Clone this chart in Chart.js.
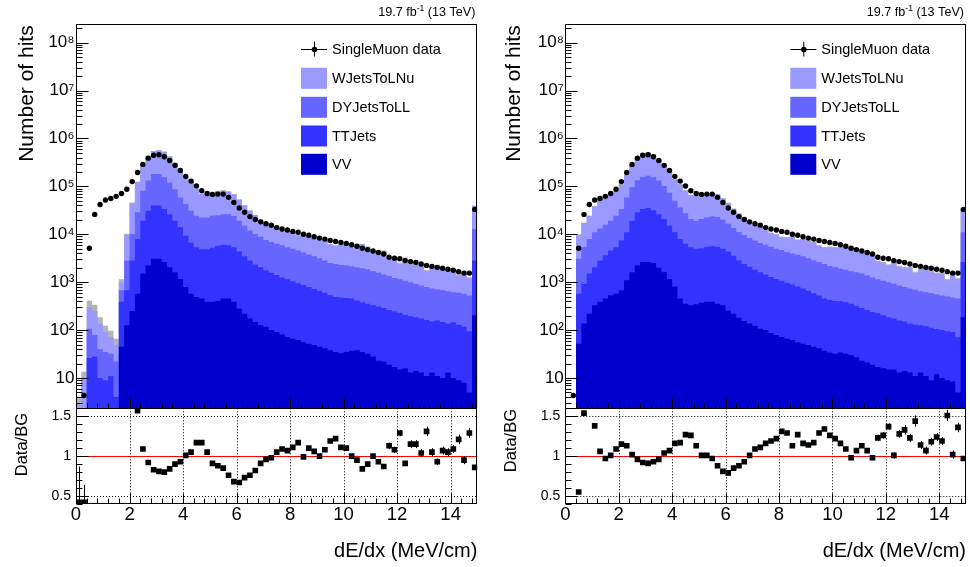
<!DOCTYPE html>
<html>
<head>
<meta charset="utf-8">
<script src="https://cdn.jsdelivr.net/npm/chart.js@4.4.0/dist/chart.umd.min.js"></script>
<style>
  html, body { margin: 0; padding: 0; background: #fff; }
  #wrap { position: relative; width: 970px; height: 567px; }
  .pane { position: absolute; top: 0; width: 485px; height: 567px; }
</style>
</head>
<body>
<div id="wrap">
  <div class="pane" style="left:0"><canvas id="cL" width="485" height="567"></canvas></div>
  <div class="pane" style="left:485px"><canvas id="cR" width="485" height="567"></canvas></div>
</div>
<script>
// binning: 75 bins of 0.2 MeV/cm from 0 to 15
const nBins = 75;
const binWidth = 0.2;
const xTickLabels = [0, 2, 4, 6, 8, 10, 12, 14];
const logTickLabels = [10, 1e2, 1e3, 1e4, 1e5, 1e6, 1e7, 1e8];
const ratioTickLabels = [0.5, 1, 1.5];
const legendNames = ['SingleMuon data', 'WJetsToLNu', 'DYJetsToLL', 'TTJets', 'VV'];

// data (same in both panels)
const dataHits = [1, 4.3, 5100, 26000, 42000, 52000, 56000, 62000, 71000, 87000,
  126000, 195000, 288000, 389000, 447000, 457000, 417000, 347000, 275000, 214000,
  162000, 129000, 102000, 81000, 71000, 68000, 69000, 69000, 59000, 46000,
  35500, 28800, 23400, 20400, 18200, 16600, 15500, 13800, 12900, 12300,
  11500, 11000, 10000, 9550, 8910, 8320, 7940, 7410, 7080, 6760,
  6460, 6030, 5620, 5130, 4790, 4470, 4170, 3890, 3310, 3160,
  3090, 2820, 2690, 2570, 2400, 2240, 2140, 2040, 1950, 1860,
  1780, 1660, 1550, 1550, 33100];

// left panel, stacked heights (top of each layer of the THStack)
const stackWJetsL = [2.8, 10, 302, 251, 138, 91, 72, 49, 1000, 9770,
  44700, 123000, 263000, 427000, 537000, 562000, 525000, 417000, 309000, 229000,
  162000, 123000, 87100, 69200, 67600, 74100, 79400, 81300, 77600, 67600,
  52500, 39800, 30900, 25100, 20000, 17400, 15800, 13200, 11700, 11500,
  10500, 9330, 10000, 8710, 8320, 8320, 7410, 6170, 5750, 6030,
  5890, 6030, 5890, 6170, 5370, 4470, 4470, 4470, 2950, 2950,
  2400, 3090, 2340, 2240, 2290, 1700, 2040, 2190, 1820, 1780,
  1620, 1380, 1620, 1200, 38900];
const stackDYL = [0, 0, 107, 79, 40, 35, 32, 22, 676, 2820,
  10200, 28800, 81300, 132000, 182000, 182000, 155000, 120000, 87100, 58900,
  42700, 30900, 24500, 22400, 22400, 24500, 25100, 26300, 26300, 24000,
  19100, 15100, 12000, 10200, 8910, 7590, 6920, 6310, 5890, 5370,
  5010, 4570, 4170, 3800, 3470, 3160, 2820, 2510, 2400, 2290,
  2240, 2140, 2040, 1950, 1860, 1700, 1580, 1450, 1350, 1230,
  1150, 1070, 1000, 912, 851, 794, 741, 708, 676, 646,
  617, 603, 575, 525, 12900];
const stackTTL = [0, 0, 26, 28, 10, 9, 11, 4, 389, 676,
  2820, 7940, 19100, 30900, 39800, 39800, 33900, 26300, 19100, 14100,
  9330, 6760, 5370, 4900, 4900, 5250, 5750, 6030, 5890, 5370,
  4370, 3470, 2820, 2340, 2040, 1780, 1580, 1410, 1260, 1150,
  1050, 955, 871, 794, 724, 661, 603, 537, 490, 479,
  468, 457, 417, 380, 355, 331, 309, 288, 263, 245,
  229, 209, 195, 186, 174, 162, 151, 158, 148, 138,
  145, 129, 117, 95, 2820];
const stackVVL = [0, 0, 0, 0, 0, 0, 0, 0, 45, 126,
  251, 575, 1510, 2240, 3090, 3090, 2630, 2040, 1620, 1170,
  794, 575, 490, 457, 389, 389, 407, 457, 457, 389,
  282, 219, 174, 148, 126, 117, 100, 91, 81, 72,
  66, 62, 56, 52, 49, 45, 42, 38, 35, 33,
  35, 37, 38, 35, 32, 28, 23, 22, 19, 17,
  15, 16, 13, 14, 13, 11, 13, 11, 10, 13,
  10, 9, 8, 5, 204];
// relative MC uncertainty (grey band)
const mcErrL = [0.35, 0.35, 0.35, 0.35, 0.35, 0.35, 0.35, 0.35, 0.15, 0.05,
  0.03, 0.02, 0.02, 0.02, 0.02, 0.02, 0.02, 0.02, 0.02, 0.02,
  0.02, 0.02, 0.02, 0.02, 0.02, 0.02, 0.02, 0.02, 0.02, 0.02,
  0.02, 0.02, 0.02, 0.02, 0.02, 0.02, 0.02, 0.02, 0.02, 0.02,
  0.03, 0.03, 0.03, 0.03, 0.03, 0.03, 0.03, 0.03, 0.03, 0.03,
  0.03, 0.03, 0.03, 0.03, 0.03, 0.03, 0.03, 0.03, 0.06, 0.06,
  0.06, 0.06, 0.06, 0.06, 0.06, 0.06, 0.06, 0.06, 0.06, 0.06,
  0.06, 0.06, 0.06, 0.06, 0.02];
const ratioL = [0.42, 0.42, null, null, null, null, null, null, null, null,
  null, 1.57, 1.09, 0.92, 0.83, 0.81, 0.80, 0.84, 0.90, 0.93,
  1.01, 1.05, 1.17, 1.17, 1.05, 0.91, 0.88, 0.85, 0.76, 0.68,
  0.67, 0.73, 0.76, 0.82, 0.91, 0.96, 0.98, 1.05, 1.09, 1.07,
  1.11, 1.17, 0.99, 1.10, 1.06, 1.00, 1.08, 1.19, 1.22, 1.11,
  1.10, 1.00, 0.95, 0.84, 0.90, 1.00, 0.93, 0.87, 1.13, 1.08,
  1.29, 0.91, 1.15, 1.15, 1.04, 1.31, 1.05, 0.93, 1.07, 1.05,
  1.09, 1.21, 0.95, 1.29, 0.86];
const ratioErrL = [0.45, 0.22, 0, 0, 0, 0, 0, 0, 0, 0,
  0, 0.01, 0.01, 0.01, 0.01, 0.01, 0.01, 0.01, 0.01, 0.01,
  0.01, 0.01, 0.01, 0.01, 0.01, 0.01, 0.01, 0.01, 0.01, 0.01,
  0.01, 0.01, 0.01, 0.01, 0.01, 0.01, 0.01, 0.01, 0.01, 0.01,
  0.01, 0.01, 0.01, 0.01, 0.01, 0.02, 0.02, 0.02, 0.02, 0.02,
  0.02, 0.02, 0.02, 0.02, 0.02, 0.02, 0.02, 0.02, 0.04, 0.04,
  0.04, 0.03, 0.05, 0.05, 0.05, 0.06, 0.05, 0.04, 0.05, 0.05,
  0.05, 0.06, 0.05, 0.06, 0.02];

// right panel
const stackWJetsR = [0, 0, 9550, 17000, 24000, 38000, 53700, 63100, 70800, 79400,
  110000, 174000, 282000, 407000, 490000, 501000, 457000, 363000, 263000, 200000,
  141000, 110000, 81300, 64600, 63100, 67600, 69200, 70800, 67600, 56200,
  44700, 33900, 26900, 21900, 18200, 15100, 14100, 12000, 10700, 10000,
  8710, 8510, 8910, 7590, 7760, 7240, 6760, 5750, 5250, 5370,
  5250, 5250, 5130, 5250, 4470, 3980, 3890, 3980, 2690, 2510,
  2240, 2820, 2090, 1950, 1950, 1550, 1860, 1910, 1660, 1510,
  1480, 1100, 1510, 1150, 33900];
const stackDYR = [0, 0, 3090, 5370, 7940, 11000, 13200, 15800, 19100, 24500,
  33900, 58900, 95500, 135000, 158000, 166000, 155000, 132000, 102000, 74100,
  50100, 36300, 27500, 20900, 19100, 20900, 22400, 23400, 22900, 20000,
  16600, 13500, 11200, 9550, 8320, 7410, 6610, 6030, 5500, 5010,
  4680, 4270, 3980, 3720, 3470, 3160, 2880, 2630, 2400, 2190,
  2040, 1910, 1820, 1700, 1620, 1510, 1380, 1260, 1150, 1070,
  1000, 933, 851, 794, 741, 692, 646, 617, 589, 562,
  525, 501, 479, 457, 11000];
const stackTTR = [0, 0, 575, 933, 1510, 2040, 2820, 3630, 4570, 5370,
  7410, 11000, 19100, 28800, 33900, 35500, 31600, 26300, 20900, 15100,
  11000, 7940, 6310, 5370, 5010, 5130, 5500, 5620, 5500, 5010,
  4370, 3550, 2880, 2400, 2090, 1820, 1620, 1450, 1290, 1170,
  1070, 977, 891, 813, 741, 661, 589, 525, 457, 427,
  407, 398, 380, 355, 324, 288, 263, 240, 224, 204,
  186, 174, 158, 151, 138, 129, 126, 120, 112, 105,
  100, 95, 91, 71, 2630];
const stackVVR = [0, 0, 52, 138, 219, 331, 389, 457, 537, 575,
  676, 1100, 1620, 2240, 2630, 2630, 2510, 2000, 1620, 1170,
  813, 457, 355, 331, 347, 372, 389, 389, 355, 331,
  257, 219, 182, 155, 138, 123, 107, 100, 87, 79,
  72, 66, 62, 56, 52, 49, 45, 42, 37, 34,
  32, 34, 32, 30, 27, 23, 21, 19, 17, 16,
  15, 15, 13, 14, 13, 11, 13, 11, 9, 12,
  10, 9, 8.5, 5, 186];
const mcErrR = [0, 0, 0.05, 0.04, 0.03, 0.03, 0.02, 0.02, 0.02, 0.02,
  0.02, 0.02, 0.02, 0.02, 0.02, 0.02, 0.02, 0.02, 0.02, 0.02,
  0.02, 0.02, 0.02, 0.02, 0.02, 0.02, 0.02, 0.02, 0.02, 0.02,
  0.02, 0.02, 0.02, 0.02, 0.02, 0.02, 0.02, 0.02, 0.02, 0.02,
  0.03, 0.03, 0.03, 0.03, 0.03, 0.03, 0.03, 0.03, 0.03, 0.03,
  0.03, 0.03, 0.03, 0.03, 0.03, 0.03, 0.03, 0.03, 0.06, 0.06,
  0.06, 0.06, 0.06, 0.06, 0.06, 0.06, 0.06, 0.06, 0.06, 0.06,
  0.06, 0.06, 0.06, 0.06, 0.02];
const ratioR = [null, null, 0.55, 1.54, null, 1.38, 1.06, 0.97, 1.01, 1.09,
  1.15, 1.13, 1.02, 0.96, 0.92, 0.91, 0.93, 0.96, 1.04, 1.07,
  1.16, 1.17, 1.27, 1.26, 1.13, 1.01, 1.01, 0.97, 0.88, 0.81,
  0.79, 0.85, 0.88, 0.93, 1.01, 1.09, 1.11, 1.16, 1.19, 1.22,
  1.31, 1.29, 1.13, 1.27, 1.16, 1.14, 1.17, 1.29, 1.34, 1.26,
  1.22, 1.16, 1.09, 0.98, 1.07, 1.13, 1.07, 0.98, 1.23, 1.26,
  1.37, 1.01, 1.28, 1.33, 1.23, 1.44, 1.14, 1.07, 1.18, 1.24,
  1.19, 1.51, 1.02, 1.36, 0.97];
const ratioErrR = [0, 0, 0.01, 0.01, 0.01, 0.01, 0.01, 0.01, 0.01, 0.01,
  0.01, 0.01, 0.01, 0.01, 0.01, 0.01, 0.01, 0.01, 0.01, 0.01,
  0.01, 0.01, 0.01, 0.01, 0.01, 0.01, 0.01, 0.01, 0.01, 0.01,
  0.01, 0.01, 0.01, 0.01, 0.01, 0.01, 0.01, 0.01, 0.01, 0.01,
  0.01, 0.01, 0.01, 0.01, 0.01, 0.02, 0.02, 0.02, 0.02, 0.02,
  0.02, 0.02, 0.02, 0.02, 0.02, 0.02, 0.02, 0.02, 0.04, 0.04,
  0.04, 0.04, 0.05, 0.06, 0.05, 0.07, 0.05, 0.05, 0.05, 0.05,
  0.05, 0.07, 0.05, 0.06, 0.02];

// styles
const FONT = '"Liberation Sans", Arial, Helvetica, sans-serif';
const stackColors = ['#9999ff', '#6666ff', '#3333ff', '#0000cc'];
const bandColor = '#b4b4b4';
const yMin = 2.33, yMax = 2.42e8;
const rMin = 0.4, rMax = 1.6;

const supMap = {'0': '\u2070', '1': '\u00b9', '2': '\u00b2', '3': '\u00b3', '4': '\u2074',
  '5': '\u2075', '6': '\u2076', '7': '\u2077', '8': '\u2078', '9': '\u2079'};
function decadeLabel(v) {
  const k = Math.round(Math.log10(v));
  if (k === 1) return '10';
  return '10' + String(k).split('').map(c => supMap[c]).join('');
}

// histogram as stepped outline: one point per lower bin edge, plus closing edge
function steps(values) {
  const pts = values.map((v, i) => ({x: i * binWidth, y: Math.max(v, yMin)}));
  pts.push({x: nBins * binWidth, y: Math.max(values[nBins - 1], yMin)});
  return pts;
}
function centres(values, lo) {
  return values.map((v, i) => ({x: (i + 0.5) * binWidth, y: (v === null || v < lo) ? null : v}));
}

function decoPlugin(p) {
  return {
    id: 'rootDeco',
    beforeDatasetsDraw(chart) {
      const {ctx, scales: {x, yr}, chartArea: a} = chart;
      ctx.save();
      ctx.lineWidth = 1;
      ctx.strokeStyle = '#000';
      ctx.setLineDash([1, 2]);
      ctx.beginPath();
      xTickLabels.slice(1).forEach(v => {
        const px = Math.round(x.getPixelForValue(v)) + 0.5;
        ctx.moveTo(px, yr.top); ctx.lineTo(px, yr.bottom);
      });
      [0.5, 1.5].forEach(v => {
        const py = Math.round(yr.getPixelForValue(v)) + 0.5;
        ctx.moveTo(a.left, py); ctx.lineTo(a.right, py);
      });
      ctx.stroke();
      ctx.setLineDash([]);
      ctx.strokeStyle = '#ff0000';
      ctx.beginPath();
      const p1 = Math.round(yr.getPixelForValue(1)) + 0.5;
      ctx.moveTo(a.left, p1); ctx.lineTo(a.right, p1);
      ctx.stroke();
      ctx.restore();
    },
    afterDatasetsDraw(chart) {
      const {ctx, scales: {x, y, yr}, chartArea: a} = chart;
      ctx.save();
      ctx.strokeStyle = '#000';
      ctx.fillStyle = '#000';
      ctx.lineWidth = 1;

      // ratio error bars
      ctx.save();
      ctx.beginPath();
      ctx.rect(a.left, yr.top, a.right - a.left, yr.bottom - yr.top);
      ctx.clip();
      ctx.beginPath();
      p.ratio.forEach((v, i) => {
        const e = p.ratioErr[i];
        if (v === null || !e) return;
        const px = Math.round(x.getPixelForValue((i + 0.5) * binWidth)) + 0.5;
        ctx.moveTo(px, yr.getPixelForValue(Math.min(v + e, rMax)));
        ctx.lineTo(px, yr.getPixelForValue(Math.max(v - e, rMin)));
      });
      ctx.stroke();
      ctx.restore();

      // frames
      const L = Math.round(a.left) + 0.5, R = Math.round(a.right) - 0.5;
      const T = Math.round(y.top) + 0.5, M = Math.round(y.bottom) + 0.5, B = Math.round(yr.bottom) - 0.5;
      ctx.strokeRect(L, T, R - L, M - T);
      ctx.strokeRect(L, M, R - L, B - M);

      // tick marks (inside, ROOT style)
      ctx.beginPath();
      const xMinor = [];
      for (let k = 1; k < 38; k++) { if (k % 5) xMinor.push(k * 0.4); }
      [[M, 10, 5], [B, 10, 5]].forEach(([edge, big, small]) => {
        xTickLabels.forEach(v => { const px = Math.round(x.getPixelForValue(v)) + 0.5; ctx.moveTo(px, edge); ctx.lineTo(px, edge - big); });
        xMinor.forEach(v => { const px = Math.round(x.getPixelForValue(v)) + 0.5; ctx.moveTo(px, edge); ctx.lineTo(px, edge - small); });
      });
      for (let k = 0; k <= 8; k++) {
        for (let m = 1; m <= 9; m++) {
          const v = m * Math.pow(10, k);
          if (v < yMin || v > yMax) continue;
          const py = Math.round(y.getPixelForValue(v)) + 0.5;
          ctx.moveTo(L, py); ctx.lineTo(L + (m === 1 ? 12 : 6), py);
        }
      }
      for (let k = 4; k <= 16; k++) {
        const v = k / 10;
        const py = Math.round(yr.getPixelForValue(v)) + 0.5;
        ctx.moveTo(L, py); ctx.lineTo(L + (k % 5 === 0 ? 12 : 6), py);
      }
      ctx.stroke();

      // legend
      const lx = a.left + 225, tx = a.left + 256;
      const rows = [49, 78.3, 107.3, 136, 164.3];
      ctx.font = '14.5px ' + FONT;
      ctx.textBaseline = 'middle';
      ctx.textAlign = 'left';
      ctx.beginPath();
      ctx.moveTo(lx, rows[0] + 0.5); ctx.lineTo(lx + 26, rows[0] + 0.5);
      ctx.moveTo(lx + 13.5, rows[0] - 7.5); ctx.lineTo(lx + 13.5, rows[0] + 7.5);
      ctx.stroke();
      ctx.beginPath(); ctx.arc(lx + 13.5, rows[0] + 0.5, 2.8, 0, Math.PI * 2); ctx.fill();
      stackColors.forEach((c, i) => {
        ctx.fillStyle = c;
        ctx.fillRect(lx, rows[i + 1] - 10.5, 26, 21);
      });
      ctx.fillStyle = '#000';
      legendNames.forEach((n, i) => ctx.fillText(n, tx, rows[i] + 1));

      // luminosity label
      ctx.textBaseline = 'alphabetic';
      ctx.textAlign = 'left';
      const big = '12.6px ' + FONT, small = '8.6px ' + FONT;
      ctx.font = big;
      const w1 = ctx.measureText('19.7 fb').width, w3 = ctx.measureText(' (13 TeV)').width;
      ctx.font = small;
      const w2 = ctx.measureText('-1').width;
      let sx = a.right - 2 - (w1 + w2 + w3);
      ctx.font = big; ctx.fillText('19.7 fb', sx, 15.8); sx += w1;
      ctx.font = small; ctx.fillText('-1', sx, 10.5); sx += w2;
      ctx.font = big; ctx.fillText(' (13 TeV)', sx, 15.8);

      // axis titles
      ctx.font = '20px ' + FONT;
      ctx.textAlign = 'right';
      ctx.fillText('dE/dx (MeV/cm)', a.right, 557);
      ctx.save();
      ctx.translate(p.titleX, a.top + 1);
      ctx.rotate(-Math.PI / 2);
      ctx.font = '21px ' + FONT;
      ctx.fillText('Number of hits', 0, 0);
      ctx.restore();
      ctx.save();
      ctx.translate(p.ratioTitleX, p.ratioTitleTop);
      ctx.rotate(-Math.PI / 2);
      ctx.font = '16.5px ' + FONT;
      ctx.fillText('Data/BG', 0, 0);
      ctx.restore();
      ctx.restore();
    }
  };
}

function makePanel(p) {
  const layer = (vals, color, order) => ({
    type: 'line', data: steps(vals), yAxisID: 'y', stepped: true, fill: 'start',
    backgroundColor: color, borderColor: color, borderWidth: 0, pointRadius: 0,
    order: order, clip: 0
  });
  const band = p.stacks[0].map((v, i) => v * (1 + p.mcErr[i]));
  const datasets = [
    layer(band, bandColor, 6),
    layer(p.stacks[0], stackColors[0], 5),
    layer(p.stacks[1], stackColors[1], 4),
    layer(p.stacks[2], stackColors[2], 3),
    layer(p.stacks[3], stackColors[3], 2),
    {
      type: 'line', data: centres(dataHits, yMin), yAxisID: 'y', showLine: false,
      pointRadius: 2.7, pointBorderWidth: 0, pointBackgroundColor: '#000', order: 1, clip: 0
    },
    {
      type: 'line', data: centres(p.ratio, rMin), yAxisID: 'yr', showLine: false,
      pointStyle: 'rect', pointRadius: 4, pointBorderWidth: 0, pointBackgroundColor: '#000',
      order: 0, clip: 0
    }
  ];
  const tickFont = size => ({family: FONT, size: size});
  new Chart(document.getElementById(p.canvas), {
    type: 'line',
    data: {datasets: datasets},
    options: {
      responsive: false,
      animation: false,
      devicePixelRatio: 1,
      layout: {padding: {top: 24.3, right: p.padRight, bottom: 0, left: 0}},
      plugins: {legend: {display: false}, tooltip: {enabled: false}},
      scales: {
        x: {
          type: 'linear', min: 0, max: nBins * binWidth, position: 'bottom',
          grid: {display: false, drawTicks: false}, border: {display: false},
          afterBuildTicks: s => { s.ticks = xTickLabels.map(v => ({value: v})); },
          afterFit: s => { s.height = 63; s.paddingLeft = 0; s.paddingRight = 0; },
          ticks: {font: tickFont(18.5), color: '#000', padding: 0, maxRotation: 0, autoSkip: false}
        },
        y: {
          type: 'logarithmic', min: yMin, max: yMax, position: 'left',
          stack: 'pads', stackWeight: 384, weight: 2,
          grid: {display: false, drawTicks: false}, border: {display: false},
          afterBuildTicks: s => { s.ticks = logTickLabels.map(v => ({value: v})); },
          afterFit: s => { s.width = p.left; s.paddingTop = 0; s.paddingBottom = 0; },
          ticks: {font: tickFont(17), color: '#000', padding: 1.5, autoSkip: false,
            callback: v => decadeLabel(v)}
        },
        yr: {
          type: 'linear', min: rMin, max: rMax, position: 'left',
          stack: 'pads', stackWeight: 95.7, weight: 1,
          grid: {display: false, drawTicks: false}, border: {display: false},
          afterBuildTicks: s => { s.ticks = ratioTickLabels.map(v => ({value: v})); },
          afterFit: s => { s.width = p.left; s.paddingTop = 0; s.paddingBottom = 0; },
          ticks: {font: tickFont(14), color: '#000', padding: 5, autoSkip: false,
            callback: v => String(v)}
        }
      }
    },
    plugins: [decoPlugin(p)]
  });
}

makePanel({
  canvas: 'cL', left: 76, padRight: 7.6, titleX: 33, ratioTitleX: 27, ratioTitleTop: 413,
  stacks: [stackWJetsL, stackDYL, stackTTL, stackVVL], mcErr: mcErrL,
  ratio: ratioL, ratioErr: ratioErrL
});
makePanel({
  canvas: 'cR', left: 80.3, padRight: 2.5, titleX: 35, ratioTitleX: 31, ratioTitleTop: 409,
  stacks: [stackWJetsR, stackDYR, stackTTR, stackVVR], mcErr: mcErrR,
  ratio: ratioR, ratioErr: ratioErrR
});
</script>
</body>
</html>
